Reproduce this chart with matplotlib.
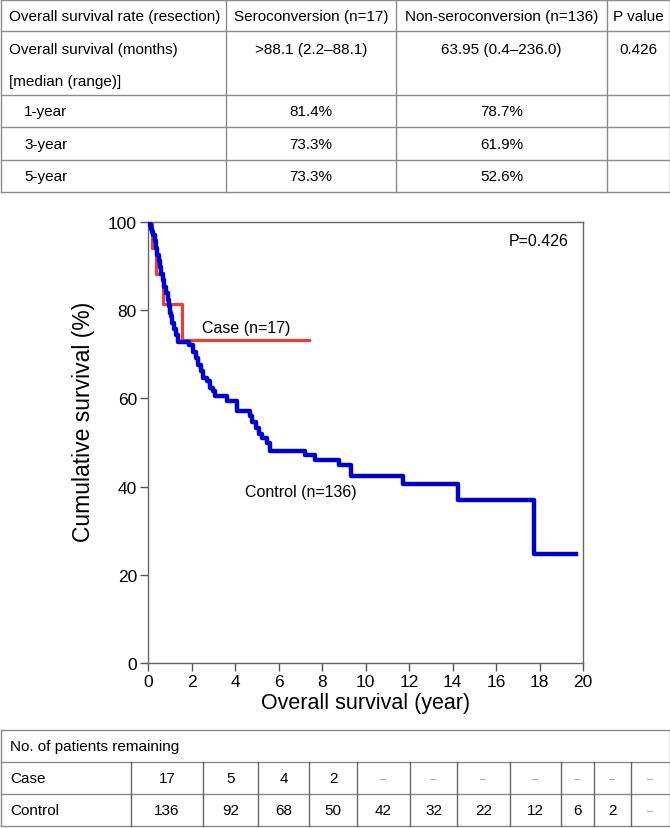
import matplotlib
matplotlib.use("Agg")
import matplotlib.pyplot as plt

plt.rcParams['font.family'] = ['Liberation Sans', 'DejaVu Sans']

# summary table
tbl_header = ["Overall survival rate (resection)", "Seroconversion (n=17)",
              "Non-seroconversion (n=136)", "P value"]
tbl_rows = ["1-year", "3-year", "5-year"]
sero_rates = ["81.4%", "73.3%", "73.3%"]
nonsero_rates = ["78.7%", "61.9%", "52.6%"]
median_sero = ">88.1 (2.2\u201388.1)"
median_nonsero = "63.95 (0.4\u2013236.0)"
p_value = "0.426"

# Kaplan-Meier steps (years, %)
case_t = [0, 0.2, 0.35, 0.7, 1.55, 7.4]
case_s = [100, 94.1, 88.2, 81.4, 73.3, 73.3]

ctrl_t = [0, 0.1, 0.15, 0.2, 0.25, 0.3, 0.35, 0.4, 0.5, 0.55, 0.6, 0.7, 0.75,
          0.85, 0.9, 0.95, 1.0, 1.05, 1.1, 1.2, 1.3, 1.4, 1.9, 2.05, 2.2, 2.3,
          2.45, 2.55, 2.7, 2.85, 3.0, 3.1, 3.62, 4.08, 4.69, 4.8, 4.95, 5.1,
          5.25, 5.45, 5.6, 7.22, 7.68, 8.8, 9.32, 11.71, 14.27, 17.76, 19.7]
ctrl_s = [100, 99.3, 98.5, 97.8, 97.1, 95.6, 94.1, 92.6, 91.2, 89.7, 88.2,
          86.8, 85.3, 83.8, 82.4, 80.9, 79.4, 78.7, 77.2, 75.7, 74.3, 72.8,
          72.1, 70.6, 69.1, 67.6, 66.2, 64.7, 63.9, 62.4, 61.6, 60.6, 59.5,
          57.2, 56.0, 54.6, 53.3, 51.9, 51.0, 50.0, 48.1, 47.2, 46.1, 44.9,
          42.5, 40.7, 37.0, 24.8, 24.8]

# numbers at risk
risk_case = ["17", "5", "4", "2", "\u2013", "\u2013", "\u2013", "\u2013", "\u2013", "\u2013", "\u2013"]
risk_ctrl = ["136", "92", "68", "50", "42", "32", "22", "12", "6", "2", "\u2013"]

fig = plt.figure(figsize=(6.7, 8.29), dpi=100)

# overlay in pixel coordinates for the two tables
tab = fig.add_axes([0, 0, 1, 1])
tab.set_xlim(0, 670)
tab.set_ylim(829, 0)
tab.axis("off")
lc = "#8a8a8a"
fs = 11

# top table
for y in [1, 32, 96, 128, 161, 193]:
    tab.plot([0.5, 669.5], [y, y], color=lc, lw=1)
for x in [0.5, 226, 396, 607, 669.5]:
    tab.plot([x, x], [1, 193], color=lc, lw=1)
col_c = [311, 501.5, 638]
tab.text(9, 17, tbl_header[0], fontsize=fs, va="center")
for c, h in zip(col_c, tbl_header[1:]):
    tab.text(c, 17, h, fontsize=fs, va="center", ha="center")
tab.text(9, 50, "Overall survival (months)", fontsize=fs, va="center")
tab.text(9, 82, "[median (range)]", fontsize=fs, va="center")
tab.text(col_c[0], 50, median_sero, fontsize=fs, va="center", ha="center")
tab.text(col_c[1], 50, median_nonsero, fontsize=fs, va="center", ha="center")
tab.text(col_c[2], 50, p_value, fontsize=fs, va="center", ha="center")
for y, lab, a, b in zip([112, 145, 177], tbl_rows, sero_rates, nonsero_rates):
    tab.text(24, y, lab, fontsize=fs, va="center")
    tab.text(col_c[0], y, a, fontsize=fs, va="center", ha="center")
    tab.text(col_c[1], y, b, fontsize=fs, va="center", ha="center")

# bottom table
for y in [731, 763, 795, 827]:
    tab.plot([0.5, 669.5], [y, y], color=lc, lw=1)
for x in [0.5, 669.5]:
    tab.plot([x, x], [731, 827], color=lc, lw=1)
edges = [131, 203, 258, 309, 357, 410, 457, 510, 561, 594, 631, 669.5]
for x in edges[:-1]:
    tab.plot([x, x], [763, 827], color="#666666", lw=1)
tab.text(10, 747, "No. of patients remaining", fontsize=fs, va="center")
tab.text(10, 779, "Case", fontsize=fs, va="center")
tab.text(10, 811, "Control", fontsize=fs, va="center")
for i in range(len(risk_case)):
    cx = (edges[i] + edges[i + 1]) / 2
    for y, v in [(779, risk_case[i]), (811, risk_ctrl[i])]:
        if v == "\u2013":
            tab.text(cx, y, v, fontsize=8, va="center", ha="center", color="#999999")
        else:
            tab.text(cx, y, v, fontsize=fs, va="center", ha="center")

# survival plot
ax = fig.add_axes([148 / 670, 1 - 664 / 829, 435 / 670, 441 / 829])
ax.step(ctrl_t, ctrl_s, where="post", color="#0000cc", lw=3.2, zorder=3)
ax.step(case_t, case_s, where="post", color="#ea3e3a", lw=2.3, zorder=2)
ax.set_xlim(0, 20)
ax.set_ylim(0, 100)
ax.set_xticks(range(0, 21, 2))
ax.set_yticks(range(0, 101, 20))
ax.tick_params(direction="out", length=6, width=1, color="#555555", labelsize=12.5, pad=2)
for s in ax.spines.values():
    s.set_color("#666666")
    s.set_linewidth(1)
ax.set_xlabel("Overall survival (year)", fontsize=15.5, labelpad=2)
ax.set_ylabel("Cumulative survival (%)", fontsize=16.5)
ax.yaxis.set_label_coords(-0.122, 0.55)
ax.text(19.36, 95.7, "P=0.426", fontsize=11.5, ha="right", va="center")
ax.text(2.48, 76.0, "Case (n=17)", fontsize=11.5, va="center")
ax.text(4.46, 38.8, "Control (n=136)", fontsize=11.5, va="center")

fig.savefig("out.png", dpi=100)
